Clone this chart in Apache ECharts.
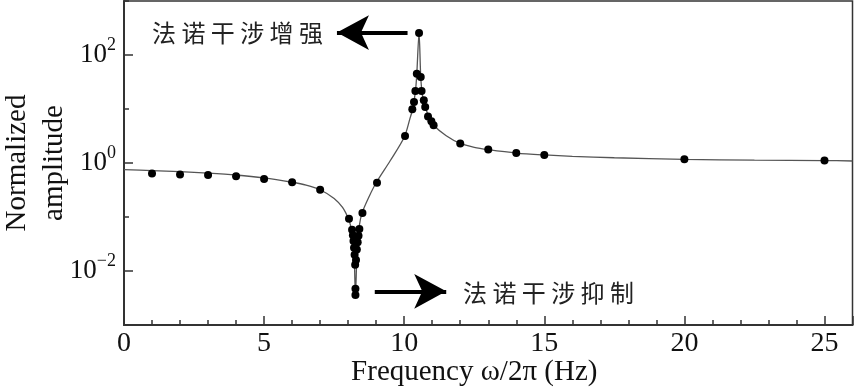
<!DOCTYPE html>
<html><head><meta charset="utf-8">
<script src="https://cdn.jsdelivr.net/npm/echarts@6/dist/echarts.min.js"></script>
<style>html,body{margin:0;padding:0;background:#fff}#c{width:854px;height:389px}</style>
</head><body><div id="c"></div>
<script>
// measured data points (frequency in Hz, normalized amplitude)
const dotFreq = [1, 2, 3, 4, 5, 6, 7, 8.03,
  8.14, 8.17, 8.19, 8.21, 8.23, 8.25, 8.26, 8.26, 8.28, 8.31, 8.34, 8.37, 8.40,
  8.51, 9.03, 10.03, 10.29, 10.35, 10.40, 10.45, 10.53, 10.59, 10.62, 10.70, 10.75, 10.85, 10.97, 11.05,
  12, 13, 14, 15, 20, 25];
const dotAmp = [0.637, 0.61, 0.60, 0.567, 0.506, 0.44, 0.32, 0.093,
  0.058, 0.046, 0.036, 0.027, 0.020, 0.013, 0.0047, 0.0036, 0.016, 0.025, 0.034, 0.045, 0.060,
  0.119, 0.43, 3.16, 9.9, 13.5, 21.5, 45, 255, 39, 21.5, 14.5, 10.9, 7.3, 5.9, 5.0,
  2.29, 1.77, 1.53, 1.41, 1.17, 1.11];
// theoretical curve
const curveFreq = [0, 1, 2, 3, 4, 5, 6, 6.5, 7, 7.5, 7.8, 8.0, 8.1, 8.2, 8.26, 8.32, 8.4, 8.5, 8.75, 9.0, 9.5,
  10.0, 10.2, 10.3, 10.4, 10.45, 10.53, 10.59, 10.65, 10.75, 10.9, 11.05, 11.5, 12, 12.5, 13, 14, 15, 16, 17.5, 20, 22.5, 25, 26];
const curveAmp = [0.755, 0.725, 0.69, 0.65, 0.60, 0.53, 0.44, 0.39, 0.32, 0.22, 0.15, 0.095, 0.065, 0.03, 0.0036, 0.025, 0.07, 0.12, 0.24, 0.43, 1.1,
  3.0, 6.5, 10, 21, 45, 255, 40, 18, 11, 6.8, 5.0, 3.2, 2.3, 1.95, 1.77, 1.53, 1.41, 1.33, 1.25, 1.17, 1.13, 1.11, 1.09];
const xMajorTicks = [0, 5, 10, 15, 20, 25];
const yLabelValues = [0.01, 1, 100];
const xTitle = 'Frequency ω/2π (Hz)';
const yTitle = 'Normalized\namplitude';
const enhanceText = '法 诺 干 涉 增 强';
const suppressText = '法 诺 干 涉 抑 制';
const enhanceArrow = [[10.12, 260], [7.6, 260]];
const suppressArrow = [[8.95, 0.0042], [11.5, 0.0042]];

const serif = '"Liberation Serif","Times New Roman",serif';
const chart = echarts.init(document.getElementById('c'), null, {renderer: 'canvas'});
const zip = (a, b) => a.map((v, i) => [v, b[i]]);
const supFmt = v => {
  const e = Math.round(Math.log10(v));
  return '{b|10}{s|' + (e < 0 ? '\u2212' + (-e) : e) + '}';
};
chart.setOption({
  animation: false,
  grid: {left: 124, right: 1.5, top: 1, bottom: 64, show: true, borderColor: '#333', borderWidth: 1.5,
    containLabel: false, outerBoundsMode: 'none'},
  xAxis: [{
    type: 'value', min: 0, max: 26, interval: 1,
    axisLine: {lineStyle: {color: '#333', width: 2}},
    axisTick: {inside: true, length: 5, lineStyle: {color: '#333', width: 1.5}},
    axisLabel: {show: false}, splitLine: {show: false},
    name: xTitle, nameLocation: 'middle', nameGap: 33,
    nameTextStyle: {fontFamily: serif, fontSize: 29, color: '#111', padding: [0, 28, 0, 0]}
  }, {
    type: 'value', min: 0, max: 26, interval: 5, position: 'bottom',
    axisLine: {show: false},
    axisTick: {inside: true, length: 9, lineStyle: {color: '#333', width: 1.5}},
    axisLabel: {fontFamily: serif, fontSize: 28, color: '#111', margin: 5,
      formatter: v => (xMajorTicks.indexOf(v) >= 0 ? String(v) : '')},
    splitLine: {show: false}
  }],
  yAxis: [{
    type: 'log', logBase: 10, min: 0.001, max: 1000,
    axisLine: {show: true, lineStyle: {color: '#333', width: 2}},
    axisTick: {show: true, inside: true, length: 5, lineStyle: {color: '#333', width: 1.5}},
    axisLabel: {show: false}, splitLine: {show: false}, minorTick: {show: false},
    name: yTitle, nameLocation: 'middle', nameGap: 51, nameRotate: 90,
    nameTextStyle: {fontFamily: serif, fontSize: 29, color: '#111', lineHeight: 37}
  }, {
    type: 'log', logBase: 10, min: 0.001, max: 1000, position: 'left',
    axisLine: {show: false},
    axisTick: {show: true, inside: true, length: 9, customValues: yLabelValues, lineStyle: {color: '#333', width: 1.5}},
    axisLabel: {show: true, customValues: yLabelValues, margin: 8, formatter: supFmt,
      rich: {
        b: {fontFamily: serif, fontSize: 27, color: '#111', lineHeight: 27},
        s: {fontFamily: serif, fontSize: 18, color: '#111', padding: [0, 0, 20, 0]}
      }},
    splitLine: {show: false}
  }],
  series: [{
    type: 'line', xAxisIndex: 0, yAxisIndex: 0, data: zip(curveFreq, curveAmp),
    showSymbol: false, smooth: 0.3, lineStyle: {color: '#555', width: 1.3}, z: 2, silent: true
  }, {
    type: 'scatter', xAxisIndex: 0, yAxisIndex: 0, data: zip(dotFreq, dotAmp),
    symbolSize: 8, itemStyle: {color: '#000', opacity: 1}, z: 3, silent: true,
    markLine: {
      silent: true, symbol: ['none', 'arrow'], symbolSize: [26, 32],
      label: {show: false}, lineStyle: {color: '#000', width: 4, type: 'solid', opacity: 1},
      itemStyle: {opacity: 1},
      data: [
        [{coord: enhanceArrow[0]}, {coord: enhanceArrow[1]}],
        [{coord: suppressArrow[0]}, {coord: suppressArrow[1]}]
      ]
    }
  }],
  graphic: [
    {type: 'text', x: 152, y: 33, style: {text: enhanceText, font: '24px "Noto Sans CJK SC"', fill: '#222', verticalAlign: 'middle'}},
    {type: 'text', x: 463, y: 293, style: {text: suppressText, font: '24px "Noto Sans CJK SC"', fill: '#222', verticalAlign: 'middle'}}
  ]
});
</script></body></html>
